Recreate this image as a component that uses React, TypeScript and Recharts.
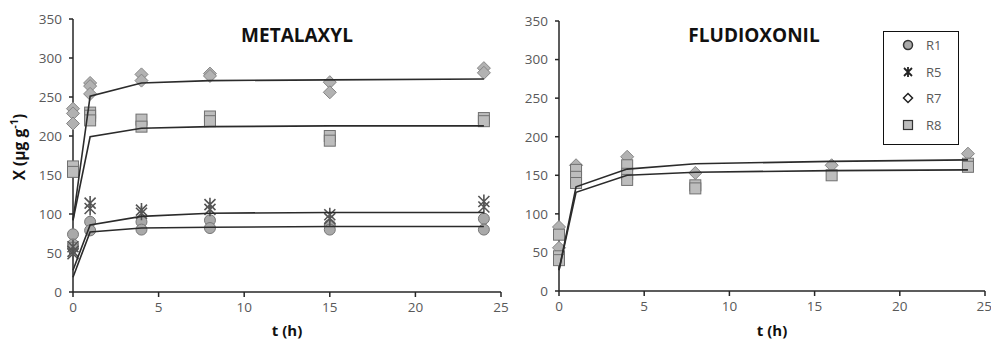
import React from 'react';
import { ScatterChart, Scatter, XAxis, YAxis } from 'recharts';

// ---------- data ----------
const xTicks = [0, 5, 10, 15, 20, 25];
const yTicks = [0, 50, 100, 150, 200, 250, 300, 350];

const metR1 = [
  { t: 0, v: 74 }, { t: 0, v: 61 }, { t: 0, v: 57 },
  { t: 1, v: 90 }, { t: 1, v: 79 },
  { t: 4, v: 90 }, { t: 4, v: 80 },
  { t: 8, v: 92 }, { t: 8, v: 82 },
  { t: 15, v: 86 }, { t: 15, v: 80 },
  { t: 24, v: 94 }, { t: 24, v: 80 },
];
const metR5 = [
  { t: 0, v: 58 }, { t: 0, v: 52 }, { t: 0, v: 49 },
  { t: 1, v: 114 }, { t: 1, v: 107 },
  { t: 4, v: 105 }, { t: 4, v: 101 },
  { t: 8, v: 112 }, { t: 8, v: 106 },
  { t: 15, v: 99 }, { t: 15, v: 94 },
  { t: 24, v: 116 }, { t: 24, v: 109 },
];
const metR7 = [
  { t: 0, v: 235 }, { t: 0, v: 229 }, { t: 0, v: 216 },
  { t: 1, v: 268 }, { t: 1, v: 264 }, { t: 1, v: 254 },
  { t: 4, v: 279 }, { t: 4, v: 271 },
  { t: 8, v: 280 }, { t: 8, v: 277 },
  { t: 15, v: 269 }, { t: 15, v: 256 },
  { t: 24, v: 287 }, { t: 24, v: 281 },
];
const metR8 = [
  { t: 0, v: 161 }, { t: 0, v: 154 },
  { t: 1, v: 230 }, { t: 1, v: 226 }, { t: 1, v: 220 },
  { t: 4, v: 221 }, { t: 4, v: 212 },
  { t: 8, v: 225 }, { t: 8, v: 219 },
  { t: 15, v: 200 }, { t: 15, v: 194 },
  { t: 24, v: 223 }, { t: 24, v: 219 },
];

const metFitTimes = [0, 1, 4, 8, 15, 24];
const metFitR1 = [19, 77, 82, 83, 84, 84];
const metFitR5 = [28, 86, 97, 101, 102, 102];
const metFitR7 = [92, 251, 268, 271, 272, 273];
const metFitR8 = [92, 199, 210, 212, 213, 213];

const fluR7 = [
  { t: 0, v: 83 }, { t: 0, v: 56 },
  { t: 1, v: 163 },
  { t: 4, v: 174 },
  { t: 8, v: 153 },
  { t: 16, v: 163 },
  { t: 24, v: 178 },
];
const fluR8 = [
  { t: 0, v: 73 }, { t: 0, v: 45 }, { t: 0, v: 40 },
  { t: 1, v: 157 }, { t: 1, v: 148 }, { t: 1, v: 140 },
  { t: 4, v: 163 }, { t: 4, v: 152 }, { t: 4, v: 144 },
  { t: 8, v: 137 }, { t: 8, v: 133 },
  { t: 16, v: 150 },
  { t: 24, v: 165 }, { t: 24, v: 161 },
];
const fluFitTimes = [0, 1, 4, 8, 16, 24];
const fluFitUpper = [27, 135, 158, 165, 168, 170];
const fluFitLower = [27, 128, 150, 154, 156, 157];

const legendItems = ['R1', 'R5', 'R7', 'R8'];

const toPts = (ts: number[], vs: number[]) => ts.map((t, i) => ({ t, v: vs[i] }));

// ---------- styles ----------
const FONT = '"Open Sans", "Liberation Sans", sans-serif';
const AXIS = '#262626';
const TICK_TXT = '#595959';
const LINE = '#2b2b2b';

const Circle = (p: any) => (
  <circle cx={p.cx} cy={p.cy} r={5.5} fill="#a9a9a9" stroke="#777" strokeWidth={1} />
);
const Square = (p: any) => (
  <rect x={p.cx - 5.5} y={p.cy - 5.5} width={11} height={11} fill="#bdbdbd" stroke="#707070" strokeWidth={1} />
);
const Diamond = (p: any) => (
  <path
    d={`M${p.cx},${p.cy - 6.5} L${p.cx + 6.5},${p.cy} L${p.cx},${p.cy + 6.5} L${p.cx - 6.5},${p.cy} Z`}
    fill="#b2b2b2" stroke="#858585" strokeWidth={1}
  />
);
const Star = (p: any) => (
  <path
    d={`M${p.cx},${p.cy - 7} L${p.cx},${p.cy + 7} M${p.cx - 5.5},${p.cy - 5.5} L${p.cx + 5.5},${p.cy + 5.5} M${p.cx + 5.5},${p.cy - 5.5} L${p.cx - 5.5},${p.cy + 5.5}`}
    stroke="#555" strokeWidth={1.6} fill="none"
  />
);
const Empty = () => <g />;

const YLabel = () => (
  <text
    x={19}
    y={147}
    transform="rotate(-90 19 147)"
    textAnchor="middle"
    dominantBaseline="central"
    fontFamily={FONT}
    fontWeight={700}
    fontSize={15.5}
    fill="#111"
  >
    X (μg g<tspan dy={-6} fontSize={11}>-1</tspan>
    <tspan dy={6}>)</tspan>
  </text>
);

const XLabel = (props: any) => {
  const vb = props.viewBox || {};
  return (
    <text
      x={vb.x + vb.width / 2}
      y={336}
      textAnchor="middle"
      fontFamily={FONT}
      fontWeight={700}
      fontSize={15}
      fill="#111"
    >
      t (h)
    </text>
  );
};

const axisProps = {
  axisLine: { stroke: AXIS, strokeWidth: 1.5 },
  tickLine: { stroke: AXIS, strokeWidth: 1.5 },
  tick: { fill: TICK_TXT, fontSize: 13.5, fontFamily: FONT },
};

const lineStyle = { stroke: LINE, strokeWidth: 1.6 };

const LegendIcon = ({ name }: { name: string }) => {
  if (name === 'R1') return <circle cx={8} cy={8} r={4.5} fill="#a9a9a9" stroke="#333" strokeWidth={1.5} />;
  if (name === 'R5')
    return (
      <path d="M8,3 L8,13 M4,4 L12,12 M12,4 L4,12" stroke="#222" strokeWidth={1.8} fill="none" />
    );
  if (name === 'R7')
    return <path d="M8,3.5 L12.5,8 L8,12.5 L3.5,8 Z" fill="#fff" stroke="#222" strokeWidth={1.5} />;
  return <rect x={3.5} y={3.5} width={9} height={9} fill="#bdbdbd" stroke="#333" strokeWidth={1.2} />;
};

export default function App() {
  return (
    <div style={{ position: 'absolute', left: 0, top: 0, width: 991, height: 339, background: '#fff', fontFamily: FONT }}>
      {/* METALAXYL */}
      <div style={{ position: 'absolute', left: 0, top: 0 }}>
        <ScatterChart width={510} height={339} margin={{ top: 19, right: 9, bottom: 17, left: 0 }}>
          <XAxis
            type="number" dataKey="t" domain={[0, 25]} ticks={xTicks} height={30}
            tickSize={5} tickMargin={5} {...axisProps} label={<XLabel />}
          />
          <YAxis
            type="number" dataKey="v" domain={[0, 350]} ticks={yTicks} width={73}
            tickSize={4} tickMargin={7} {...axisProps} label={<YLabel />}
          />
          <Scatter data={metR1} shape={Circle} isAnimationActive={false} />
          <Scatter data={metR5} shape={Star} isAnimationActive={false} />
          <Scatter data={metR7} shape={Diamond} isAnimationActive={false} />
          <Scatter data={metR8} shape={Square} isAnimationActive={false} />
          <Scatter data={toPts(metFitTimes, metFitR1)} shape={Empty} line={lineStyle} lineType="joint" isAnimationActive={false} />
          <Scatter data={toPts(metFitTimes, metFitR5)} shape={Empty} line={lineStyle} lineType="joint" isAnimationActive={false} />
          <Scatter data={toPts(metFitTimes, metFitR7)} shape={Empty} line={lineStyle} lineType="joint" isAnimationActive={false} />
          <Scatter data={toPts(metFitTimes, metFitR8)} shape={Empty} line={lineStyle} lineType="joint" isAnimationActive={false} />
        </ScatterChart>
      </div>

      {/* FLUDIOXONIL */}
      <div style={{ position: 'absolute', left: 486, top: 0 }}>
        <ScatterChart width={505} height={339} margin={{ top: 21, right: 6, bottom: 18, left: 0 }}>
          <XAxis
            type="number" dataKey="t" domain={[0, 25]} ticks={xTicks} height={30}
            tickSize={5} tickMargin={5} {...axisProps} label={<XLabel />}
          />
          <YAxis
            type="number" dataKey="v" domain={[0, 350]} ticks={yTicks} width={73}
            tickSize={4} tickMargin={7} {...axisProps}
          />
          <Scatter data={fluR7} shape={Diamond} isAnimationActive={false} />
          <Scatter data={fluR8} shape={Square} isAnimationActive={false} />
          <Scatter data={toPts(fluFitTimes, fluFitUpper)} shape={Empty} line={lineStyle} lineType="joint" isAnimationActive={false} />
          <Scatter data={toPts(fluFitTimes, fluFitLower)} shape={Empty} line={lineStyle} lineType="joint" isAnimationActive={false} />
        </ScatterChart>
      </div>

      {/* Titles */}
      <div style={{ position: 'absolute', left: 197, top: 22, width: 200, textAlign: 'center', fontWeight: 700, fontSize: 19, color: '#111' }}>
        METALAXYL
      </div>
      <div style={{ position: 'absolute', left: 654, top: 22, width: 200, textAlign: 'center', fontWeight: 700, fontSize: 19, color: '#111' }}>
        FLUDIOXONIL
      </div>

      {/* Legend */}
      <div style={{ position: 'absolute', left: 883, top: 31, width: 76, height: 114, boxSizing: 'border-box', border: '1.5px solid #111', background: '#fff' }}>
        {legendItems.map((name, i) => (
          <div key={name} style={{ position: 'absolute', left: 16, top: 5 + i * 26.5, height: 16, display: 'flex', alignItems: 'center' }}>
            <svg width={16} height={16} style={{ display: 'block' }}>
              <LegendIcon name={name} />
            </svg>
            <span style={{ marginLeft: 10, fontSize: 13, color: TICK_TXT, lineHeight: '16px' }}>{name}</span>
          </div>
        ))}
      </div>
    </div>
  );
}
